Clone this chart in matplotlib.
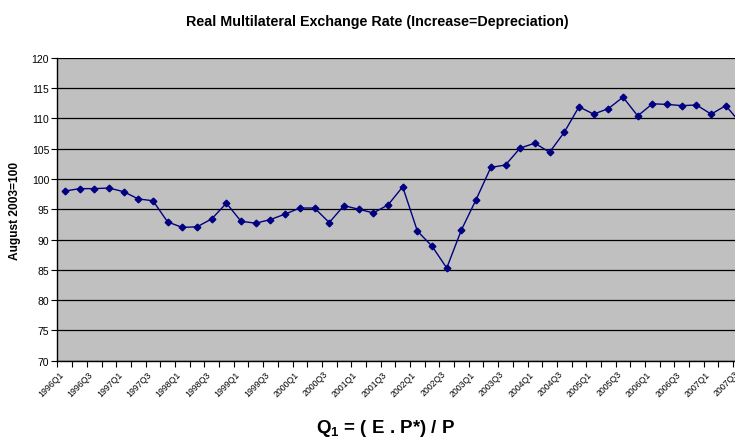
import matplotlib.pyplot as plt
import numpy as np

plt.rcParams['font.family'] = ['Liberation Sans', 'DejaVu Sans']
plt.rcParams['mathtext.fontset'] = 'custom'
plt.rcParams['mathtext.bf'] = 'Liberation Sans:bold'
plt.rcParams['mathtext.rm'] = 'Liberation Sans'

# quarters 1996Q1 .. 2007Q3
quarters = [f"{y}Q{q}" for y in range(1996, 2008) for q in range(1, 5)][:47]

rate = [98.0, 98.4, 98.4, 98.5, 97.9, 96.7, 96.4, 92.9, 92.0, 92.1,
        93.4, 96.0, 93.0, 92.7, 93.3, 94.2, 95.2, 95.2, 92.8, 95.6,
        95.0, 94.4, 95.7, 98.7, 91.4, 88.9, 85.3, 91.6, 96.6, 101.9,
        102.3, 105.1, 105.9, 104.4, 107.7, 111.9, 110.7, 111.6, 113.5, 110.4,
        112.4, 112.3, 112.1, 112.2, 110.7, 112.1, 109.2]

fig = plt.figure(figsize=(7.35, 4.39), dpi=100)
# plot area runs past the right edge of the picture, like the cropped original
ax = fig.add_axes([0.0782, 0.176, 0.9593, 0.6902])
ax.set_facecolor('#c0c0c0')

x = np.arange(len(rate))
ax.plot(x, rate, color='#000080', lw=1.0, marker='D', markersize=3.4, zorder=3)

ax.set_ylim(70, 120)
ax.set_xlim(-0.5, len(rate) + 0.5)
ax.set_yticks(np.arange(70, 121, 5))
ax.yaxis.grid(True, color='black', lw=0.9)
ax.set_axisbelow(True)

# labels sit a little left of the category centre, as in the original
ax.set_xticks(x[::2] - 0.4)
ax.set_xticklabels(quarters[::2], rotation=45, ha='right', rotation_mode='anchor', fontsize=6.3)
ax.set_xticks(np.arange(-0.5, len(rate) + 1, 1), minor=True)
ax.tick_params(axis='x', which='major', length=0, pad=6)
ax.tick_params(axis='x', which='minor', length=4, width=0.8, direction='out')
ax.tick_params(axis='y', length=4, width=0.8, labelsize=7.5, pad=2)

for s in ['top', 'right']:
    ax.spines[s].set_visible(False)
ax.spines['left'].set_linewidth(1.0)
ax.spines['bottom'].set_linewidth(1.0)

fig.text(0.514, 0.951, 'Real Multilateral Exchange Rate (Increase=Depreciation)',
         ha='center', va='center', fontsize=10.3, fontweight='bold')
fig.text(0.525, 0.023, r'Q$_\mathbf{1}$ = ( E . P*) / P', ha='center', va='center',
         fontsize=13.5, fontweight='bold')
fig.text(0.021, 0.52, 'August 2003=100', rotation=90, ha='center', va='center',
         fontsize=8.6, fontweight='bold')

fig.savefig('out.png', dpi=100)
